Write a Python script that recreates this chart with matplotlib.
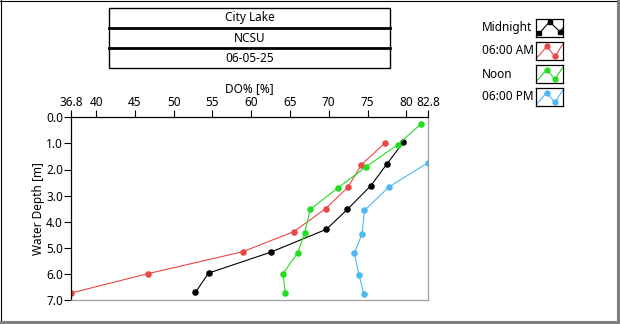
import numpy as np
import matplotlib.pyplot as plt
from matplotlib.patches import Rectangle
from matplotlib.lines import Line2D

plt.rcParams['font.family'] = ['Noto Sans', 'DejaVu Sans']
plt.rcParams['font.size'] = 8.5

# Dissolved oxygen profiles, City Lake
depth_mid = [0.96, 1.79, 2.63, 3.53, 4.29, 5.17, 5.97, 6.71]
do_mid = [79.6, 77.5, 75.4, 72.4, 69.7, 62.5, 54.5, 52.8]

depth_6am = [0.97, 1.82, 2.67, 3.50, 4.38, 5.15, 5.99, 6.73]
do_6am = [77.3, 74.2, 72.5, 69.6, 65.5, 58.9, 46.7, 36.8]

depth_noon = [0.25, 1.05, 1.90, 2.70, 3.53, 4.44, 5.19, 5.99, 6.73]
do_noon = [81.9, 78.9, 74.8, 71.2, 67.6, 66.9, 66.0, 64.1, 64.4]

depth_6pm = [1.74, 2.66, 3.57, 4.46, 5.21, 6.03, 6.76]
do_6pm = [82.8, 77.8, 74.6, 74.3, 73.3, 73.9, 74.5]

series = [
    ("Midnight", do_mid, depth_mid, "#000000"),
    ("06:00 AM", do_6am, depth_6am, "#e84848"),
    ("Noon", do_noon, depth_noon, "#22dd22"),
    ("06:00 PM", do_6pm, depth_6pm, "#4cb8f0"),
]

header_rows = ["City Lake", "NCSU", "06-05-25"]
x_ticks = [36.8, 40, 45, 50, 55, 60, 65, 70, 75, 80, 82.8]
y_ticks = [0, 1, 2, 3, 4, 5, 6, 7]

W, H = 620, 324
fig = plt.figure(figsize=(W / 100, H / 100), dpi=100)


def fx(px):
    return px / W


def fy(py):
    return 1 - py / H


# panel frame: dark top/left, grey raised right/bottom
fig.add_artist(Line2D([fx(0.5), fx(0.5)], [fy(0), fy(321)], color="black", lw=0.8))
fig.add_artist(Line2D([fx(0), fx(617)], [fy(0.5), fy(0.5)], color="black", lw=0.8))
fig.add_artist(Line2D([fx(618), fx(618)], [fy(0), fy(322)], color="#808080", lw=2.2))
fig.add_artist(Line2D([fx(0), fx(619)], [fy(321.5), fy(321.5)], color="#808080", lw=2.2))

# header table
tx0, tx1, ty0 = 109, 390, 8
row_h = 20
fig.add_artist(Rectangle((fx(tx0), fy(ty0 + 3 * row_h)), fx(tx1 - tx0), (3 * row_h) / H,
                         fill=False, ec="black", lw=1.0))
for i, txt in enumerate(header_rows):
    if i > 0:
        fig.add_artist(Line2D([fx(tx0), fx(tx1)], [fy(ty0 + i * row_h)] * 2, color="black", lw=2.0))
    fig.text(fx((tx0 + tx1) / 2), fy(ty0 + i * row_h + row_h / 2), txt,
             ha="center", va="center")

# main graph
ax = fig.add_axes([fx(71.3), fy(300), fx(428 - 71.3), (300 - 117.3) / H])
for name, xs, ys, col in series:
    ax.plot(xs, ys, color=col, lw=0.8, marker="o", ms=3.7, mec=col, mfc=col)

ax.set_xlim(36.8, 82.8)
ax.set_ylim(7, 0)
ax.xaxis.tick_top()
ax.xaxis.set_label_position("top")
ax.set_xticks(x_ticks)
ax.set_xticklabels([f"{v:g}" for v in x_ticks])
ax.set_yticks(y_ticks)
ax.set_yticklabels([f"{v:.1f}" for v in y_ticks])
ax.tick_params(axis="both", direction="out", length=5, width=0.8, pad=1, labelsize=8.5)
ax.set_xlabel("DO% [%]", labelpad=3)
ax.set_ylabel("Water Depth [m]", labelpad=1)
ax.spines["left"].set_color("black")
ax.spines["top"].set_color("black")
ax.spines["right"].set_color("#a0a0a0")
ax.spines["bottom"].set_color("#a0a0a0")
for s in ax.spines.values():
    s.set_linewidth(0.9)

# legend with small plot glyphs
lx_text, bx0, bx1 = 482, 536, 563
for i, (name, xs, ys, col) in enumerate(series):
    top = 19 + i * 23
    fig.text(fx(lx_text), fy(top + 9), name, ha="left", va="center")
    iax = fig.add_axes([fx(bx0), fy(top + 18), fx(bx1 - bx0), 18 / H])
    iax.set_xlim(0, 1)
    iax.set_ylim(0, 1)
    iax.set_xticks([])
    iax.set_yticks([])
    for s in iax.spines.values():
        s.set_linewidth(0.9)
    if i == 0:
        gx, gy, mk = [0.12, 0.5, 0.88, 1.0], [0.2, 0.85, 0.3, 0.5], [0, 1, 2]
        iax.plot(gx, gy, color=col, lw=0.8)
        iax.plot([gx[k] for k in mk], [gy[k] for k in mk], "s", color=col, ms=3)
    else:
        gx, gy = [0.02, 0.4, 0.7, 0.98], [0.1, 0.75, 0.2, 0.85]
        iax.plot(gx, gy, color=col, lw=0.8)
        iax.plot([gx[1], gx[2]], [gy[1], gy[2]], "o", color=col, ms=3.5)

fig.savefig("out.png", dpi=100)
